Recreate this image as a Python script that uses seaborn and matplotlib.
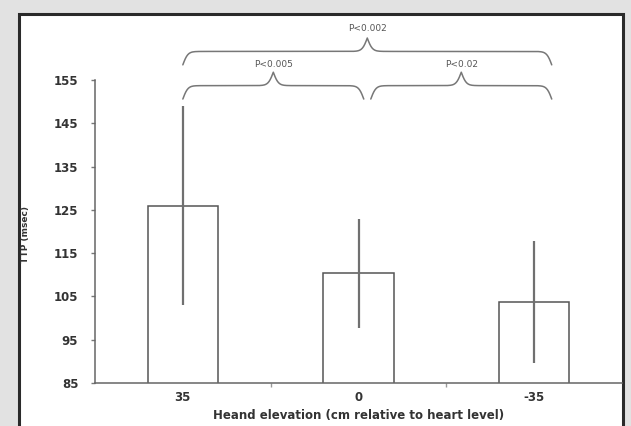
#!/usr/bin/env python3

import numpy as np
import matplotlib as mpl
from matplotlib import pyplot as plt
import seaborn as sns
import pandas as pd

sns.set_style("ticks")
plt.rcParams['font.family'] = ['DejaVu Sans']

elevation = ['35', '0', '-35']
ttp_mean = [126.0, 110.3, 103.6]
ttp_low = [103.0, 97.8, 89.6]
ttp_high = [149.0, 122.8, 117.8]

# brace spans (category positions) and labels
brace_x0 = [0.0, 1.07, 0.0]
brace_x1 = [1.03, 2.10, 2.10]
brace_base = [150.6, 150.6, 158.5]
brace_labels = ['P<0.005', 'P<0.02', 'P<0.002']
label_y = [158.6, 158.6, 166.9]

df = pd.DataFrame({'elevation': elevation, 'ttp': ttp_mean})

fig = plt.figure(figsize=(6.31, 4.26), dpi=100, facecolor='#e2e2e2')
# white panel with dark frame
fig.patches.append(mpl.patches.Rectangle((18.5 / 631, -0.05), (623.5 - 18.5) / 631, 1.05 - 13.5 / 426,
                                         transform=fig.transFigure, facecolor='white',
                                         edgecolor='#2a2a2a', linewidth=2.2, zorder=-1))
ax = fig.add_axes([95 / 631, 1 - 383 / 426, (622 - 95) / 631, (383 - 80) / 426])
ax.set_facecolor('none')

line_col = '#555555'
sns.barplot(data=df, x='elevation', y='ttp', order=elevation, color='white', edgecolor=line_col,
            linewidth=1.1, width=0.4, errorbar=None, ax=ax)
for b in ax.patches:
    b.set_facecolor('white')
    b.set_zorder(2)

xs = np.arange(len(elevation))
mean = np.array(ttp_mean)
ax.errorbar(xs, mean, yerr=[mean - np.array(ttp_low), np.array(ttp_high) - mean],
            fmt='none', ecolor='#707070', elinewidth=1.6, capsize=0, zorder=3)

ax.set_xlim(-0.5, 2.5)
ax.set_ylim(85, 155)
ax.set_yticks(np.arange(85, 156, 10))
ax.set_xticks(xs)
ax.set_xticks([0.5, 1.5], minor=True)
ax.tick_params(axis='x', which='major', length=0, pad=6, labelsize=8.5, colors='#333333')
ax.tick_params(axis='x', which='minor', length=3, width=1, color='#999999')
ax.tick_params(axis='y', length=3, width=1, color='#777777', labelsize=8.5, labelcolor='#333333', pad=9)
for lab in ax.get_xticklabels() + ax.get_yticklabels():
    lab.set_fontweight('bold')

for side in ['top', 'right']:
    ax.spines[side].set_visible(False)
for side in ['left', 'bottom']:
    ax.spines[side].set_color('#666666')
    ax.spines[side].set_linewidth(1.1)

ax.set_xlabel('Heand elevation (cm relative to heart level)', fontsize=8.5, fontweight='bold',
              color='#333333', labelpad=3)
ax.set_ylabel('TTP (msec)', fontsize=6.5, fontweight='bold', color='#333333', labelpad=0)
ax.yaxis.set_label_coords(-0.123, 0.49)


def brace(ax, x0, x1, y, h, beta=70):
    n = 301
    x = np.linspace(x0, x1, n)
    xh = x[:n // 2 + 1]
    yh = 1 / (1 + np.exp(-beta * (xh - xh[0]))) + 1 / (1 + np.exp(-beta * (xh - xh[-1])))
    yy = np.concatenate((yh, yh[-2::-1]))
    ax.plot(x, y + (yy - 0.5) * h, color='#777777', lw=1.1, clip_on=False)


for x0, x1, yb, lab, ly in zip(brace_x0, brace_x1, brace_base, brace_labels, label_y):
    brace(ax, x0, x1, yb, 6.2)
    ax.text((x0 + x1) / 2, ly, lab, ha='center', va='center', fontsize=6.5, color='#555555', clip_on=False)

fig.savefig('out.png', dpi=100, facecolor=fig.get_facecolor())
